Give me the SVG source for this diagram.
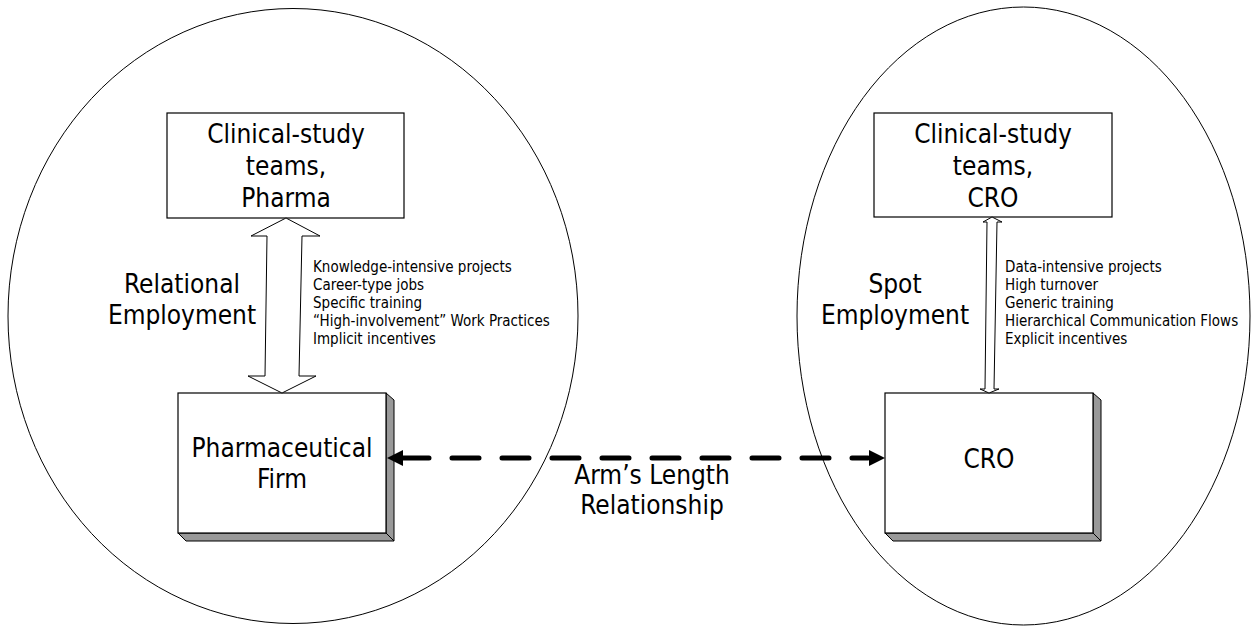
<svg xmlns="http://www.w3.org/2000/svg" width="1252" height="631" viewBox="0 0 1252 631">
<defs>
<style>
.ell{fill:none;stroke:#000;stroke-width:1}
.box{fill:#fff;stroke:#000;stroke-width:1.2}
.side{fill:#999;stroke:#000;stroke-width:1}
.big{font-family:'DejaVu Sans Condensed','DejaVu Sans',sans-serif;font-stretch:condensed;font-size:26px;fill:#000;text-anchor:middle}
.small{font-family:'DejaVu Sans Condensed','DejaVu Sans',sans-serif;font-stretch:condensed;font-size:15px;fill:#000}
.dbl{fill:#fff;stroke:#000;stroke-width:1}
.dash{fill:none;stroke:#000;stroke-width:5;stroke-linecap:round;stroke-dasharray:27 23}
.head{fill:#000}
</style>
</defs>
<rect width="1252" height="631" fill="#fff"/>
<g id="region-pharma">
<ellipse class="ell" cx="293" cy="316" rx="285" ry="307.5"/>
</g>
<g id="region-cro">
<ellipse class="ell" cx="1023.5" cy="316" rx="226.5" ry="309"/>
</g>
<g id="pharma-teams">
<rect class="box" x="167" y="113" width="237" height="105"/>
<text class="big" x="286" y="143">Clinical-study</text>
<text class="big" x="286" y="175">teams,</text>
<text class="big" x="286" y="207">Pharma</text>
</g>
<g id="pharma-firm">
<polygon class="side" points="386,393 394,400 394,541 386,533"/>
<polygon class="side" points="178,533 386,533 394,541 186,541"/>
<rect class="box" x="178" y="393" width="208" height="140"/>
<text class="big" x="282" y="457">Pharmaceutical</text>
<text class="big" x="282" y="488">Firm</text>
</g>
<g id="cro-teams">
<rect class="box" x="874" y="113" width="238" height="104"/>
<text class="big" x="993" y="143">Clinical-study</text>
<text class="big" x="993" y="175">teams,</text>
<text class="big" x="993" y="207">CRO</text>
</g>
<g id="cro">
<polygon class="side" points="1093,393 1101,400 1101,541 1093,533"/>
<polygon class="side" points="885,533 1093,533 1101,541 893,541"/>
<rect class="box" x="885" y="393" width="208" height="140"/>
<text class="big" x="989" y="468">CRO</text>
</g>
<g id="labels">
<text class="big" x="182" y="293">Relational</text>
<text class="big" x="182" y="324">Employment</text>
<text class="big" x="895" y="293">Spot</text>
<text class="big" x="895" y="324">Employment</text>
<text class="big" x="652" y="484">Arm’s Length</text>
<text class="big" x="652" y="514">Relationship</text>
<text class="small" x="313" y="272">Knowledge-intensive projects</text>
<text class="small" x="313" y="290">Career-type jobs</text>
<text class="small" x="313" y="308">Specific training</text>
<text class="small" x="313" y="326">“High-involvement” Work Practices</text>
<text class="small" x="313" y="344">Implicit incentives</text>
<text class="small" x="1005" y="272">Data-intensive projects</text>
<text class="small" x="1005" y="290">High turnover</text>
<text class="small" x="1005" y="308">Generic training</text>
<text class="small" x="1005" y="326">Hierarchical Communication Flows</text>
<text class="small" x="1005" y="344">Explicit incentives</text>
</g>
<g id="connectors">
<polygon class="dbl" points="286,218 320,236 302,236 299,376 316,376 282,393 248,376 265,376 267,236 251,236"/>
<polygon class="dbl" points="992,217 1002,222 997,222 994,389 999,389 989,393 980,389 985,389 987,222 983,222"/>
<line class="dash" x1="402" y1="458" x2="868" y2="458"/>
<polygon class="head" points="387,458 403,450 403,466"/>
<polygon class="head" points="885,458 869,450 869,466"/>
</g>
</svg>
